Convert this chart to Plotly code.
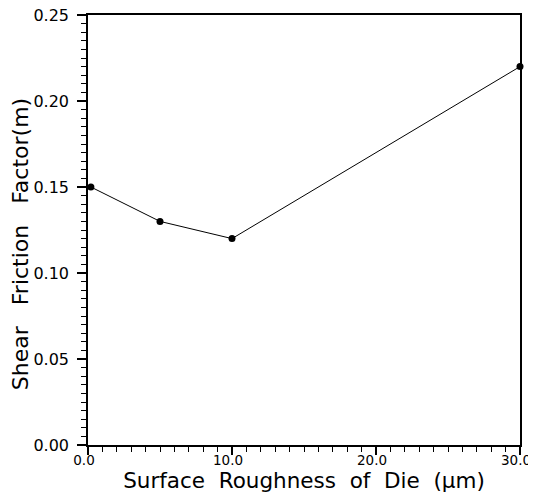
import plotly.graph_objects as go

roughness = [0.2, 5.0, 10.0, 30.0]
friction = [0.15, 0.13, 0.12, 0.22]
x_ticks = [0, 10, 20, 30]
x_tick_labels = ["0.0", "10.0", "20.0", "30.0"]
y_ticks = [0.0, 0.05, 0.10, 0.15, 0.20, 0.25]
y_tick_labels = ["0.00", "0.05", "0.10", "0.15", "0.20", "0.25"]
gap = " \u00a0"
x_title = gap.join(["Surface", "Roughness", "of", "Die", "(μm)"])
y_title = (" \u00a0\u00a0").join(["Shear", "Friction", "Factor(m)"]) + "\u00a0" * 4 + "\u200b"

fig = go.Figure()
fig.add_trace(go.Scatter(
    x=roughness, y=friction, mode="lines+markers",
    line=dict(color="black", width=1),
    marker=dict(color="black", size=7),
    cliponaxis=False, showlegend=False,
))

fig.update_layout(
    width=528, height=488,
    margin=dict(l=80, r=16, t=7, b=51, autoexpand=False),
    paper_bgcolor="white", plot_bgcolor="white",
    font=dict(family="DejaVu Sans", size=14, color="black"),
    xaxis=dict(
        range=[0, 30], tickvals=x_ticks, ticktext=x_tick_labels,
        ticks="outside", ticklen=8, tickwidth=1.5, tickcolor="black",
        ticklabeloverflow="allow", ticklabelstandoff=-6, ticklabelshift=-4,
        showline=True, linecolor="black", linewidth=1.5, mirror=True,
        showgrid=False, zeroline=False, automargin=False,
        minor=dict(dtick=1, ticks="outside", ticklen=5, tickcolor="black", tickwidth=1),
        title=dict(text=x_title, font=dict(size=21.5), standoff=0),
        tickfont=dict(size=13.5),
    ),
    yaxis=dict(
        range=[0, 0.25], tickvals=y_ticks, ticktext=y_tick_labels,
        ticks="outside", ticklen=9, tickwidth=1.5, tickcolor="black",
        ticklabeloverflow="allow", ticklabelstandoff=5,
        showline=True, linecolor="black", linewidth=1.5, mirror=True,
        showgrid=False, zeroline=False, automargin=False,
        minor=dict(dtick=0.005, ticks="outside", ticklen=5, tickcolor="black", tickwidth=1),
        title=dict(text=y_title, font=dict(size=22), standoff=5),
        tickfont=dict(size=16),
    ),
)
fig.write_html("out.html")
